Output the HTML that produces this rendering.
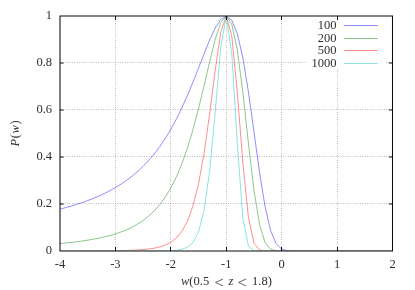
<!DOCTYPE html>
<html><head><meta charset="utf-8"><style>
html,body{margin:0;padding:0;background:#fff;}
svg{display:block;will-change:transform;font-family:"Liberation Serif",serif;font-size:12.5px;fill:#2e2e2e;}
</style></head><body>
<svg width="415" height="290" viewBox="0 0 415 290">
<rect width="415" height="290" fill="#fff"/>
<g stroke="#777" stroke-width="0.6" stroke-dasharray="0.8 1.6"><line x1="115.50" y1="16.0" x2="115.50" y2="251.0"/><line x1="170.50" y1="16.0" x2="170.50" y2="251.0"/><line x1="226.50" y1="16.0" x2="226.50" y2="251.0"/><line x1="281.50" y1="16.0" x2="281.50" y2="251.0"/><line x1="337.50" y1="16.0" x2="337.50" y2="251.0"/><line x1="60.0" y1="203.50" x2="392.5" y2="203.50"/><line x1="60.0" y1="156.50" x2="392.5" y2="156.50"/><line x1="60.0" y1="109.50" x2="392.5" y2="109.50"/><line x1="60.0" y1="62.50" x2="392.5" y2="62.50"/></g>
<rect x="306" y="18" width="80" height="51" fill="#fff"/>
<clipPath id="cp"><rect x="0" y="0" width="415" height="250.45"/></clipPath><g clip-path="url(#cp)"><path d="M60.00,209.15 L65.54,207.66 L71.08,206.07 L76.62,204.36 L82.17,202.52 L87.71,200.54 L93.25,198.38 L98.79,196.04 L104.33,193.48 L109.88,190.67 L115.42,187.59 L120.96,184.18 L126.50,180.41 L132.04,176.22 L137.58,171.55 L143.12,166.34 L148.67,160.50 L154.21,153.97 L159.75,146.64 L165.29,138.43 L170.83,129.26 L176.38,119.04 L181.92,107.74 L187.46,95.38 L193.00,82.06 L198.54,68.04 L204.08,53.79 L209.62,40.09 L215.17,28.09 L220.71,19.39 L226.25,16.00 L231.79,20.13 L237.33,33.78 L242.87,57.95 L248.42,91.74 L253.96,131.71 L259.50,172.08 L265.04,206.47 L270.58,230.48 L276.12,243.69 L281.67,249.12 L287.21,250.68 L292.75,250.97 L298.29,251.00 L303.83,251.00 L309.38,251.00 L314.92,251.00 L320.46,251.00 L326.00,251.00 L331.54,251.00 L337.08,251.00 L342.62,251.00 L348.17,251.00 L353.71,251.00 L359.25,251.00 L364.79,251.00 L370.33,251.00 L375.88,251.00 L381.42,251.00 L386.96,251.00 L392.50,251.00" fill="none" stroke="#0000ff" stroke-width="0.45" stroke-linejoin="round"/><path d="M60.00,243.55 L65.54,243.01 L71.08,242.41 L76.62,241.75 L82.17,241.00 L87.71,240.16 L93.25,239.22 L98.79,238.15 L104.33,236.92 L109.88,235.51 L115.42,233.89 L120.96,232.00 L126.50,229.79 L132.04,227.20 L137.58,224.14 L143.12,220.50 L148.67,216.15 L154.21,210.94 L159.75,204.66 L165.29,197.08 L170.83,187.93 L176.38,176.90 L181.92,163.67 L187.46,147.95 L193.00,129.55 L198.54,108.55 L204.08,85.50 L209.62,61.71 L215.17,39.56 L220.71,22.74 L226.25,16.00 L231.79,24.20 L237.33,50.22 L242.87,92.41 L248.42,143.07 L253.96,190.44 L259.50,224.50 L265.04,242.56 L270.58,249.21 L276.12,250.77 L281.67,250.98 L287.21,251.00 L292.75,251.00 L298.29,251.00 L303.83,251.00 L309.38,251.00 L314.92,251.00 L320.46,251.00 L326.00,251.00 L331.54,251.00 L337.08,251.00 L342.62,251.00 L348.17,251.00 L353.71,251.00 L359.25,251.00 L364.79,251.00 L370.33,251.00 L375.88,251.00 L381.42,251.00 L386.96,251.00 L392.50,251.00" fill="none" stroke="#008000" stroke-width="0.45" stroke-linejoin="round"/><path d="M60.00,250.96 L65.54,250.95 L71.08,250.94 L76.62,250.93 L82.17,250.91 L87.71,250.89 L93.25,250.87 L98.79,250.84 L104.33,250.79 L109.88,250.74 L115.42,250.66 L120.96,250.56 L126.50,250.43 L132.04,250.23 L137.58,249.96 L143.12,249.57 L148.67,249.01 L154.21,248.18 L159.75,246.94 L165.29,245.07 L170.83,242.23 L176.38,237.88 L181.92,231.22 L187.46,221.07 L193.00,205.87 L198.54,183.77 L204.08,153.19 L209.62,114.15 L215.17,70.54 L220.71,32.48 L226.25,16.00 L231.79,35.96 L237.33,92.43 L242.87,163.08 L248.42,217.41 L253.96,243.08 L259.50,250.00 L265.04,250.94 L270.58,251.00 L276.12,251.00 L281.67,251.00 L287.21,251.00 L292.75,251.00 L298.29,251.00 L303.83,251.00 L309.38,251.00 L314.92,251.00 L320.46,251.00 L326.00,251.00 L331.54,251.00 L337.08,251.00 L342.62,251.00 L348.17,251.00 L353.71,251.00 L359.25,251.00 L364.79,251.00 L370.33,251.00 L375.88,251.00 L381.42,251.00 L386.96,251.00 L392.50,251.00" fill="none" stroke="#ff0000" stroke-width="0.45" stroke-linejoin="round"/><path d="M60.00,251.00 L65.54,251.00 L71.08,251.00 L76.62,251.00 L82.17,251.00 L87.71,251.00 L93.25,251.00 L98.79,251.00 L104.33,251.00 L109.88,251.00 L115.42,251.00 L120.96,251.00 L126.50,251.00 L132.04,251.00 L137.58,251.00 L143.12,250.99 L148.67,250.98 L154.21,250.97 L159.75,250.93 L165.29,250.85 L170.83,250.67 L176.38,250.27 L181.92,249.33 L187.46,247.19 L193.00,242.33 L198.54,231.77 L204.08,210.29 L209.62,171.31 L215.17,112.43 L220.71,47.81 L226.25,16.00 L231.79,54.22 L237.33,144.01 L242.87,218.10 L248.42,246.20 L253.96,250.73 L259.50,251.00 L265.04,251.00 L270.58,251.00 L276.12,251.00 L281.67,251.00 L287.21,251.00 L292.75,251.00 L298.29,251.00 L303.83,251.00 L309.38,251.00 L314.92,251.00 L320.46,251.00 L326.00,251.00 L331.54,251.00 L337.08,251.00 L342.62,251.00 L348.17,251.00 L353.71,251.00 L359.25,251.00 L364.79,251.00 L370.33,251.00 L375.88,251.00 L381.42,251.00 L386.96,251.00 L392.50,251.00" fill="none" stroke="#00bfbf" stroke-width="0.45" stroke-linejoin="round"/></g>
<g stroke="#111" stroke-width="1"><line x1="115.50" y1="251.0" x2="115.50" y2="247.0"/><line x1="115.50" y1="16.0" x2="115.50" y2="20.0"/><line x1="170.50" y1="251.0" x2="170.50" y2="247.0"/><line x1="170.50" y1="16.0" x2="170.50" y2="20.0"/><line x1="226.50" y1="251.0" x2="226.50" y2="247.0"/><line x1="226.50" y1="16.0" x2="226.50" y2="20.0"/><line x1="281.50" y1="251.0" x2="281.50" y2="247.0"/><line x1="281.50" y1="16.0" x2="281.50" y2="20.0"/><line x1="337.50" y1="251.0" x2="337.50" y2="247.0"/><line x1="337.50" y1="16.0" x2="337.50" y2="20.0"/><line x1="60.0" y1="204.00" x2="63.7" y2="204.00"/><line x1="392.5" y1="204.00" x2="388.8" y2="204.00"/><line x1="60.0" y1="157.00" x2="63.7" y2="157.00"/><line x1="392.5" y1="157.00" x2="388.8" y2="157.00"/><line x1="60.0" y1="110.00" x2="63.7" y2="110.00"/><line x1="392.5" y1="110.00" x2="388.8" y2="110.00"/><line x1="60.0" y1="63.00" x2="63.7" y2="63.00"/><line x1="392.5" y1="63.00" x2="388.8" y2="63.00"/></g>
<path d="M59.5,16.0 H393.0 M59.5,251.0 H393.0 M60.0,16.0 V251.0 M392.5,16.0 V251.0" fill="none" stroke="#0a0a0a" stroke-width="1.04"/>
<text x="60.00" y="267.5" text-anchor="middle">-4</text><text x="115.42" y="267.5" text-anchor="middle">-3</text><text x="170.83" y="267.5" text-anchor="middle">-2</text><text x="226.25" y="267.5" text-anchor="middle">-1</text><text x="281.67" y="267.5" text-anchor="middle">0</text><text x="337.08" y="267.5" text-anchor="middle">1</text><text x="392.50" y="267.5" text-anchor="middle">2</text><text x="52" y="254.00" text-anchor="end">0</text><text x="52" y="207.00" text-anchor="end">0.2</text><text x="52" y="160.00" text-anchor="end">0.4</text><text x="52" y="113.00" text-anchor="end">0.6</text><text x="52" y="66.00" text-anchor="end">0.8</text><text x="52" y="19.00" text-anchor="end">1</text>
<text x="336.5" y="29.00" text-anchor="end">100</text><line x1="343.7" y1="25.50" x2="377.8" y2="25.50" stroke="#0000ff" stroke-width="0.45"/><text x="336.5" y="42.00" text-anchor="end">200</text><line x1="343.7" y1="38.50" x2="377.8" y2="38.50" stroke="#008000" stroke-width="0.45"/><text x="336.5" y="54.00" text-anchor="end">500</text><line x1="343.7" y1="50.50" x2="377.8" y2="50.50" stroke="#ff0000" stroke-width="0.45"/><text x="336.5" y="67.00" text-anchor="end">1000</text><line x1="343.7" y1="63.50" x2="377.8" y2="63.50" stroke="#00bfbf" stroke-width="0.45"/>
<text y="285.3"><tspan x="181" font-style="italic">w</tspan>(0.5<tspan x="228.5" font-style="italic">z</tspan><tspan x="252">1.8)</tspan></text>
<path d="M223,279 L215.5,282.45 L223,285.9 M246,279 L238.6,282.45 L246,285.9" fill="none" stroke="#222" stroke-width="0.7"/>
<text transform="translate(18.7,133.2) rotate(-90)" text-anchor="middle" letter-spacing="0.6"><tspan font-style="italic">P</tspan>(<tspan font-style="italic">w</tspan>)</text>
</svg></body></html>
